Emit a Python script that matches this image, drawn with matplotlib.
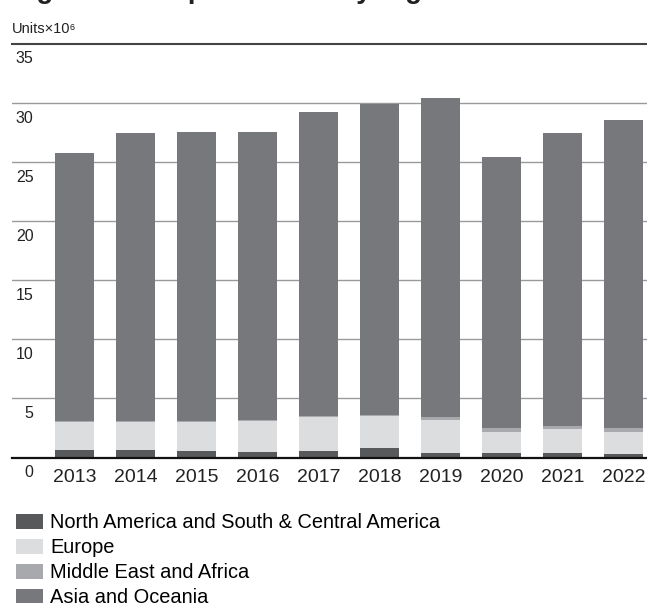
import numpy as np
import matplotlib.pyplot as plt

plt.rcParams['font.family'] = ['Liberation Sans', 'DejaVu Sans']

# Data (units x 10^6)
years = ['2013', '2014', '2015', '2016', '2017', '2018', '2019', '2020', '2021', '2022']
totals = [25.77, 27.47, 27.56, 27.56, 29.26, 29.95, 30.46, 25.43, 27.47, 28.58]
north_south_america = [0.65, 0.65, 0.57, 0.47, 0.57, 0.82, 0.38, 0.38, 0.38, 0.30]
europe = [2.38, 2.35, 2.41, 2.62, 2.86, 2.70, 2.80, 1.78, 2.04, 1.86]
middle_east_africa = [0.10, 0.10, 0.10, 0.10, 0.10, 0.10, 0.25, 0.34, 0.25, 0.34]
y_ticks = [0, 5, 10, 15, 20, 25, 30, 35]

series_names = ['North America and South & Central America', 'Europe',
                'Middle East and Africa', 'Asia and Oceania']
colors = ['#58595b', '#dcdddf', '#a7a9ac', '#77787b']

# Asia and Oceania is what's left of the total
asia_oceania = (np.array(totals) - np.array(north_south_america)
                - np.array(europe) - np.array(middle_east_africa))
stacks = [north_south_america, europe, middle_east_africa, asia_oceania]

fig = plt.figure(figsize=(6.47, 6.03), dpi=100)
ax = fig.add_axes([12 / 647, 145.5 / 603, 635 / 647, 413.5 / 603])

# Stacked bars
x = np.arange(len(years))
bottom = np.zeros(len(years))
handles = []
for vals, name, col in zip(stacks, series_names, colors):
    b = ax.bar(x, vals, width=0.64, bottom=bottom, color=col, label=name, zorder=3)
    handles.append(b)
    bottom += np.array(vals)

ax.set_xlim(-1.025, 9.385)
ax.set_ylim(0, 35)

# Gridlines with the labels sitting just below them
for v in y_ticks:
    if v == 0:
        ax.axhline(v, color='#111111', lw=1.6, zorder=4, clip_on=False)
    elif v == 35:
        ax.axhline(v, color='#444444', lw=1.5, zorder=4, clip_on=False)
    else:
        ax.axhline(v, color='#9a9a9a', lw=1.0, zorder=1)
    ax.annotate(str(v), xy=(21.5 / 635, v), xycoords=('axes fraction', 'data'),
                xytext=(0, -15), textcoords='offset pixels',
                ha='right', va='center', fontsize=11.5, color='#222222',
                annotation_clip=False)

ax.set_xticks(x)
ax.set_xticklabels(years, fontsize=14, color='#222222')
ax.tick_params(axis='x', length=0, pad=8)
ax.set_yticks([])
for s in ax.spines.values():
    s.set_visible(False)

# Title (cropped at the top in the original) and unit label
fig.text(12.5 / 647, 1 + 1.8 / 603, 'Light vehicle production by region',
         fontsize=19.8, fontweight='bold', va='baseline', ha='left', color='#222222')
fig.text(12 / 647, (603 - 33) / 603, 'Units×10⁶', fontsize=10.5,
         va='baseline', ha='left', color='#222222')

# Legend below the plot
fig.legend(handles, series_names, loc='upper left', bbox_to_anchor=(16 / 647, 0.149),
           frameon=False, fontsize=14.4, borderpad=0, borderaxespad=0,
           handlelength=1.35, handleheight=0.8, handletextpad=0.35, labelspacing=0.3)

plt.savefig('out.png', dpi=100)
